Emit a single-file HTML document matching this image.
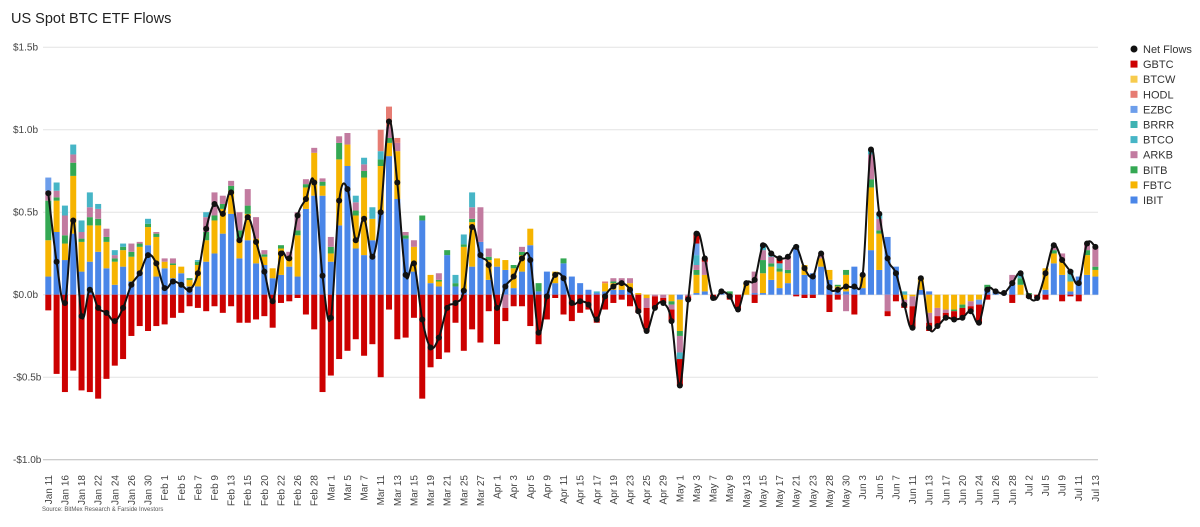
<!DOCTYPE html>
<html><head><meta charset="utf-8">
<style>
body{margin:0;background:#fff;width:1200px;height:522px;overflow:hidden;font-family:"Liberation Sans",Arial,sans-serif;}
svg text{font-family:"Liberation Sans",Arial,sans-serif;}
</style></head>
<body>
<svg id="chart" width="1200" height="522" xmlns="http://www.w3.org/2000/svg">
<text x="11" y="23" font-size="14.5" fill="#222">US Spot BTC ETF Flows</text>
<text x="42" y="511" font-size="6" fill="#555">Source: BitMex Research &amp; Farside Investors</text>
<g id="grid"></g><g id="bars"></g><g id="line"></g><g id="xlabels"></g><g id="legend"></g>
</svg>
<script>
const dates=["Jan 11","Jan 12","Jan 16","Jan 17","Jan 18","Jan 19","Jan 22","Jan 23","Jan 24","Jan 25","Jan 26","Jan 29","Jan 30","Jan 31",
"Feb 1","Feb 2","Feb 5","Feb 6","Feb 7","Feb 8","Feb 9","Feb 12","Feb 13","Feb 14","Feb 15","Feb 16","Feb 20","Feb 21","Feb 22","Feb 23","Feb 26","Feb 27","Feb 28","Feb 29",
"Mar 1","Mar 4","Mar 5","Mar 6","Mar 7","Mar 8","Mar 11","Mar 12","Mar 13","Mar 14","Mar 15","Mar 18","Mar 19","Mar 20","Mar 21","Mar 22","Mar 25","Mar 26","Mar 27","Mar 28",
"Apr 1","Apr 2","Apr 3","Apr 4","Apr 5","Apr 8","Apr 9","Apr 10","Apr 11","Apr 12","Apr 15","Apr 16","Apr 17","Apr 18","Apr 19","Apr 22","Apr 23","Apr 24","Apr 25","Apr 26","Apr 29","Apr 30",
"May 1","May 2","May 3","May 6","May 7","May 8","May 9","May 10","May 13","May 14","May 15","May 16","May 17","May 20","May 21","May 22","May 23","May 24","May 28","May 29","May 30","May 31",
"Jun 3","Jun 4","Jun 5","Jun 6","Jun 7","Jun 10","Jun 11","Jun 12","Jun 13","Jun 14","Jun 17","Jun 18","Jun 20","Jun 21","Jun 24","Jun 25","Jun 26","Jun 27","Jun 28",
"Jul 1","Jul 2","Jul 3","Jul 5","Jul 8","Jul 9","Jul 10","Jul 11","Jul 12","Jul 13"];
// $m
const ibit=[110,380,210,370,140,200,260,160,60,170,80,140,300,110,160,100,130,50,50,200,250,370,490,220,330,190,180,100,120,170,110,520,600,600,200,420,780,280,240,330,500,840,580,340,140,450,70,50,240,50,30,170,320,90,170,150,40,140,300,20,140,70,190,110,70,30,10,20,30,30,30,0,0,0,0,0,-30,0,10,20,0,10,0,0,0,10,10,90,40,70,280,120,130,170,90,30,20,170,40,270,150,350,170,0,0,30,20,0,0,0,0,0,0,30,20,10,60,0,0,0,30,190,120,20,110,120,110];
const fbtc=[220,190,100,350,180,220,160,160,140,100,150,150,110,240,40,80,40,40,130,130,200,150,140,120,160,150,50,60,160,60,250,130,260,60,50,400,130,200,470,130,280,80,290,0,150,0,50,30,0,0,260,270,0,120,50,60,120,100,100,0,0,70,0,0,0,0,0,50,40,40,40,10,-20,0,0,-40,-190,0,110,100,0,0,0,0,70,0,120,80,100,60,0,60,0,50,60,20,100,0,80,380,220,0,0,-30,-10,70,-110,-80,-90,-90,-60,-40,-30,0,0,0,0,60,0,0,130,60,80,60,0,120,40];
const bitb=[240,20,50,80,20,50,40,30,20,20,30,20,20,20,0,10,0,10,20,50,30,30,30,50,50,0,15,0,20,0,30,20,0,25,40,100,0,30,40,0,40,30,0,20,0,30,0,10,30,20,15,20,0,20,0,0,20,20,0,50,0,0,30,0,0,0,0,0,10,0,0,0,0,0,0,-20,-30,0,30,0,0,10,20,0,0,0,80,20,20,20,0,0,0,0,0,10,30,0,0,50,20,0,0,0,0,0,0,0,0,-10,-20,0,0,30,0,0,0,40,10,0,0,20,0,0,0,30,20];
const arkb=[60,40,120,50,40,60,60,50,20,0,50,10,0,10,20,30,0,0,0,90,140,50,30,110,100,130,25,0,0,30,110,30,30,20,60,40,70,50,40,0,0,70,50,20,40,0,0,40,0,0,0,70,210,50,0,-80,0,30,0,0,0,0,0,0,0,0,0,0,20,30,30,0,-60,-10,-20,-30,-100,-10,30,80,0,0,0,0,0,130,60,40,0,80,0,0,0,30,0,0,-100,0,0,150,70,-100,0,-30,-60,0,-60,-50,-20,0,0,-30,0,0,0,0,60,0,0,0,0,20,50,0,0,40,120];
const btco=[0,50,60,60,70,90,30,0,30,20,0,0,30,0,0,0,0,0,10,30,0,0,0,0,0,0,0,0,0,0,0,0,0,0,0,0,0,40,40,70,50,0,0,0,0,0,0,0,0,50,60,90,0,0,0,0,0,0,0,0,0,0,0,0,0,0,10,0,0,0,0,0,0,0,0,0,-40,0,60,0,0,0,0,0,0,0,30,20,30,0,20,0,0,0,0,0,0,0,0,30,30,0,0,20,0,0,0,0,0,0,0,0,0,0,0,0,0,30,0,0,0,10,0,70,0,0,0];
const ezbc=[80,0,0,0,0,0,0,0,0,0,0,0,0,0,0,0,0,0,0,0,0,0,0,0,0,0,0,0,0,0,0,0,0,0,0,0,0,0,0,0,0,0,0,0,0,0,0,0,0,0,0,0,0,0,0,0,0,0,0,0,0,0,0,0,0,0,0,0,0,0,0,0,0,0,0,0,0,0,70,0,0,0,0,0,0,0,0,0,0,0,0,0,0,0,0,0,0,0,0,0,0,0,0,0,0,0,0,0,0,0,0,0,-30,0,0,0,0,0,0,0,0,0,0,0,0,0,0];
const hodl=[0,0,0,0,0,0,0,0,0,0,0,0,0,0,0,0,0,0,0,0,0,0,0,0,0,0,0,0,0,0,0,0,0,0,0,0,0,0,0,0,130,120,30,0,0,0,0,0,0,0,0,0,0,0,0,0,0,0,0,0,0,0,0,0,0,0,0,10,0,0,0,0,0,0,0,0,0,0,0,0,0,0,0,0,0,0,0,0,0,0,0,0,0,0,0,0,0,0,0,0,0,0,0,0,0,0,0,0,0,0,0,0,0,0,0,0,0,0,0,0,0,0,0,0,0,0,0];
const gbtc=[-95,-480,-590,-460,-580,-590,-630,-510,-430,-390,-250,-190,-220,-190,-180,-140,-110,-70,-80,-100,-70,-110,-70,-170,-170,-150,-130,-200,-50,-40,-20,-120,-210,-590,-490,-390,-340,-270,-370,-300,-500,-90,-270,-260,-140,-630,-440,-390,-350,-170,-340,-210,-290,-100,-300,-80,-70,-70,-190,-300,-150,-20,-120,-160,-110,-90,-170,-90,-50,-30,-70,-110,-140,-70,-30,-70,-160,-20,60,20,-20,0,-30,-90,0,-50,0,0,30,0,-10,-20,-20,0,-105,-30,0,-120,0,0,0,-30,-40,-20,-130,0,-50,-60,-30,-50,-60,-30,-110,-30,0,0,-50,0,-20,-20,-30,0,-40,-10,-40,0,0];
const yTicks=[1500,1000,500,0,-500,-1000];
const yTickLabels=["$1.5b","$1.0b","$0.5b","$0.0b","-$0.5b","-$1.0b"];

const series=[
 {n:"IBIT",d:ibit,c:"#4a86e8"},{n:"FBTC",d:fbtc,c:"#f6b400"},{n:"BITB",d:bitb,c:"#34a853"},
 {n:"ARKB",d:arkb,c:"#c27ba0"},{n:"BTCO",d:btco,c:"#46b5c6"},{n:"BRRR",d:null,c:"#3fb3b3"},
 {n:"EZBC",d:ezbc,c:"#6d9eeb"},{n:"HODL",d:hodl,c:"#e67c73"},{n:"BTCW",d:null,c:"#f7cb4d"},
 {n:"GBTC",d:gbtc,c:"#cc0000"}];
const NS="http://www.w3.org/2000/svg";
const X0=48.3, PITCH=8.31, Y0=294.7, PPM=0.165;
const xs=i=>X0+i*PITCH;
const ys=v=>Y0-v*PPM;
function mk(tag,attrs,parent){const e=document.createElementNS(NS,tag);for(const k in attrs)e.setAttribute(k,attrs[k]);parent.appendChild(e);return e;}

const grid=document.getElementById('grid');
yTicks.forEach((t,k)=>{
  const l=mk('line',{x1:43,x2:1098,y1:ys(t),y2:ys(t),stroke:t===-1000?"#bbb":"#e3e3e3","stroke-width":1},grid);
  
  
  const tx=mk('text',{x:13,y:ys(t)+3.5,"font-size":10,fill:"#444"},grid);
  tx.textContent=yTickLabels[k];
  
  
});

const bars=document.getElementById('bars');
const net=[];
for(let i=0;i<dates.length;i++){
  let pos=0,neg=0;
  series.forEach(s=>{
    if(!s.d)return;const v=s.d[i];if(!v)return;
    let y,h;
    if(v>0){y=ys(pos+v);h=v*PPM;pos+=v;}else{y=ys(neg);h=-v*PPM;neg+=v;}
    const r=mk('rect',{x:xs(i)-3,y:y,width:6,height:h,fill:s.c},bars);
    
    
  });
  net.push(pos+neg);
}

const lg=document.getElementById('line');
const P=net.map((v,i)=>[xs(i),ys(v)]);
let d="M"+P[0][0]+","+P[0][1];
for(let i=0;i<P.length-1;i++){
  const p0=P[Math.max(0,i-1)],p1=P[i],p2=P[i+1],p3=P[Math.min(P.length-1,i+2)];
  const t=0.18;
  const c1=[p1[0]+(p2[0]-p0[0])*t,p1[1]+(p2[1]-p0[1])*t];
  const c2=[p2[0]-(p3[0]-p1[0])*t,p2[1]-(p3[1]-p1[1])*t];
  d+=" C"+c1[0].toFixed(1)+","+c1[1].toFixed(1)+" "+c2[0].toFixed(1)+","+c2[1].toFixed(1)+" "+p2[0].toFixed(1)+","+p2[1].toFixed(1);
}
const path=mk('path',{d:d,fill:"none",stroke:"#111","stroke-width":2},lg);


P.forEach(p=>{
  const c=mk('circle',{cx:p[0],cy:p[1],r:3,fill:"#111"},lg);
  
  
});

const xl=document.getElementById('xlabels');
dates.forEach((dt,i)=>{
  if(i%2)return;
  const x=xs(i)+3.5,y=475;
  const t=mk('text',{x:x,y:y,"font-size":10,fill:"#444","text-anchor":"end",transform:"rotate(-90 "+x+" "+y+")"},xl);
  t.textContent=dt;
  
  
});

const leg=document.getElementById('legend');
const legendItems=["Net Flows","GBTC","BTCW","HODL","EZBC","BRRR","BTCO","ARKB","BITB","FBTC","IBIT"];
const colorOf={};series.forEach(s=>colorOf[s.n]=s.c);
legendItems.forEach((n,k)=>{
  const y=49+k*15.1;
  const g=mk('g',{},leg);
  
  
  if(k===0)mk('circle',{cx:1134,cy:y,r:3.5,fill:"#111"},g);
  else mk('rect',{x:1130.5,y:y-3.5,width:7,height:7,fill:colorOf[n]},g);
  const t=mk('text',{x:1143,y:y+4,"font-size":11,fill:"#333"},g);
  t.textContent=n;
});
</script>
</body></html>
